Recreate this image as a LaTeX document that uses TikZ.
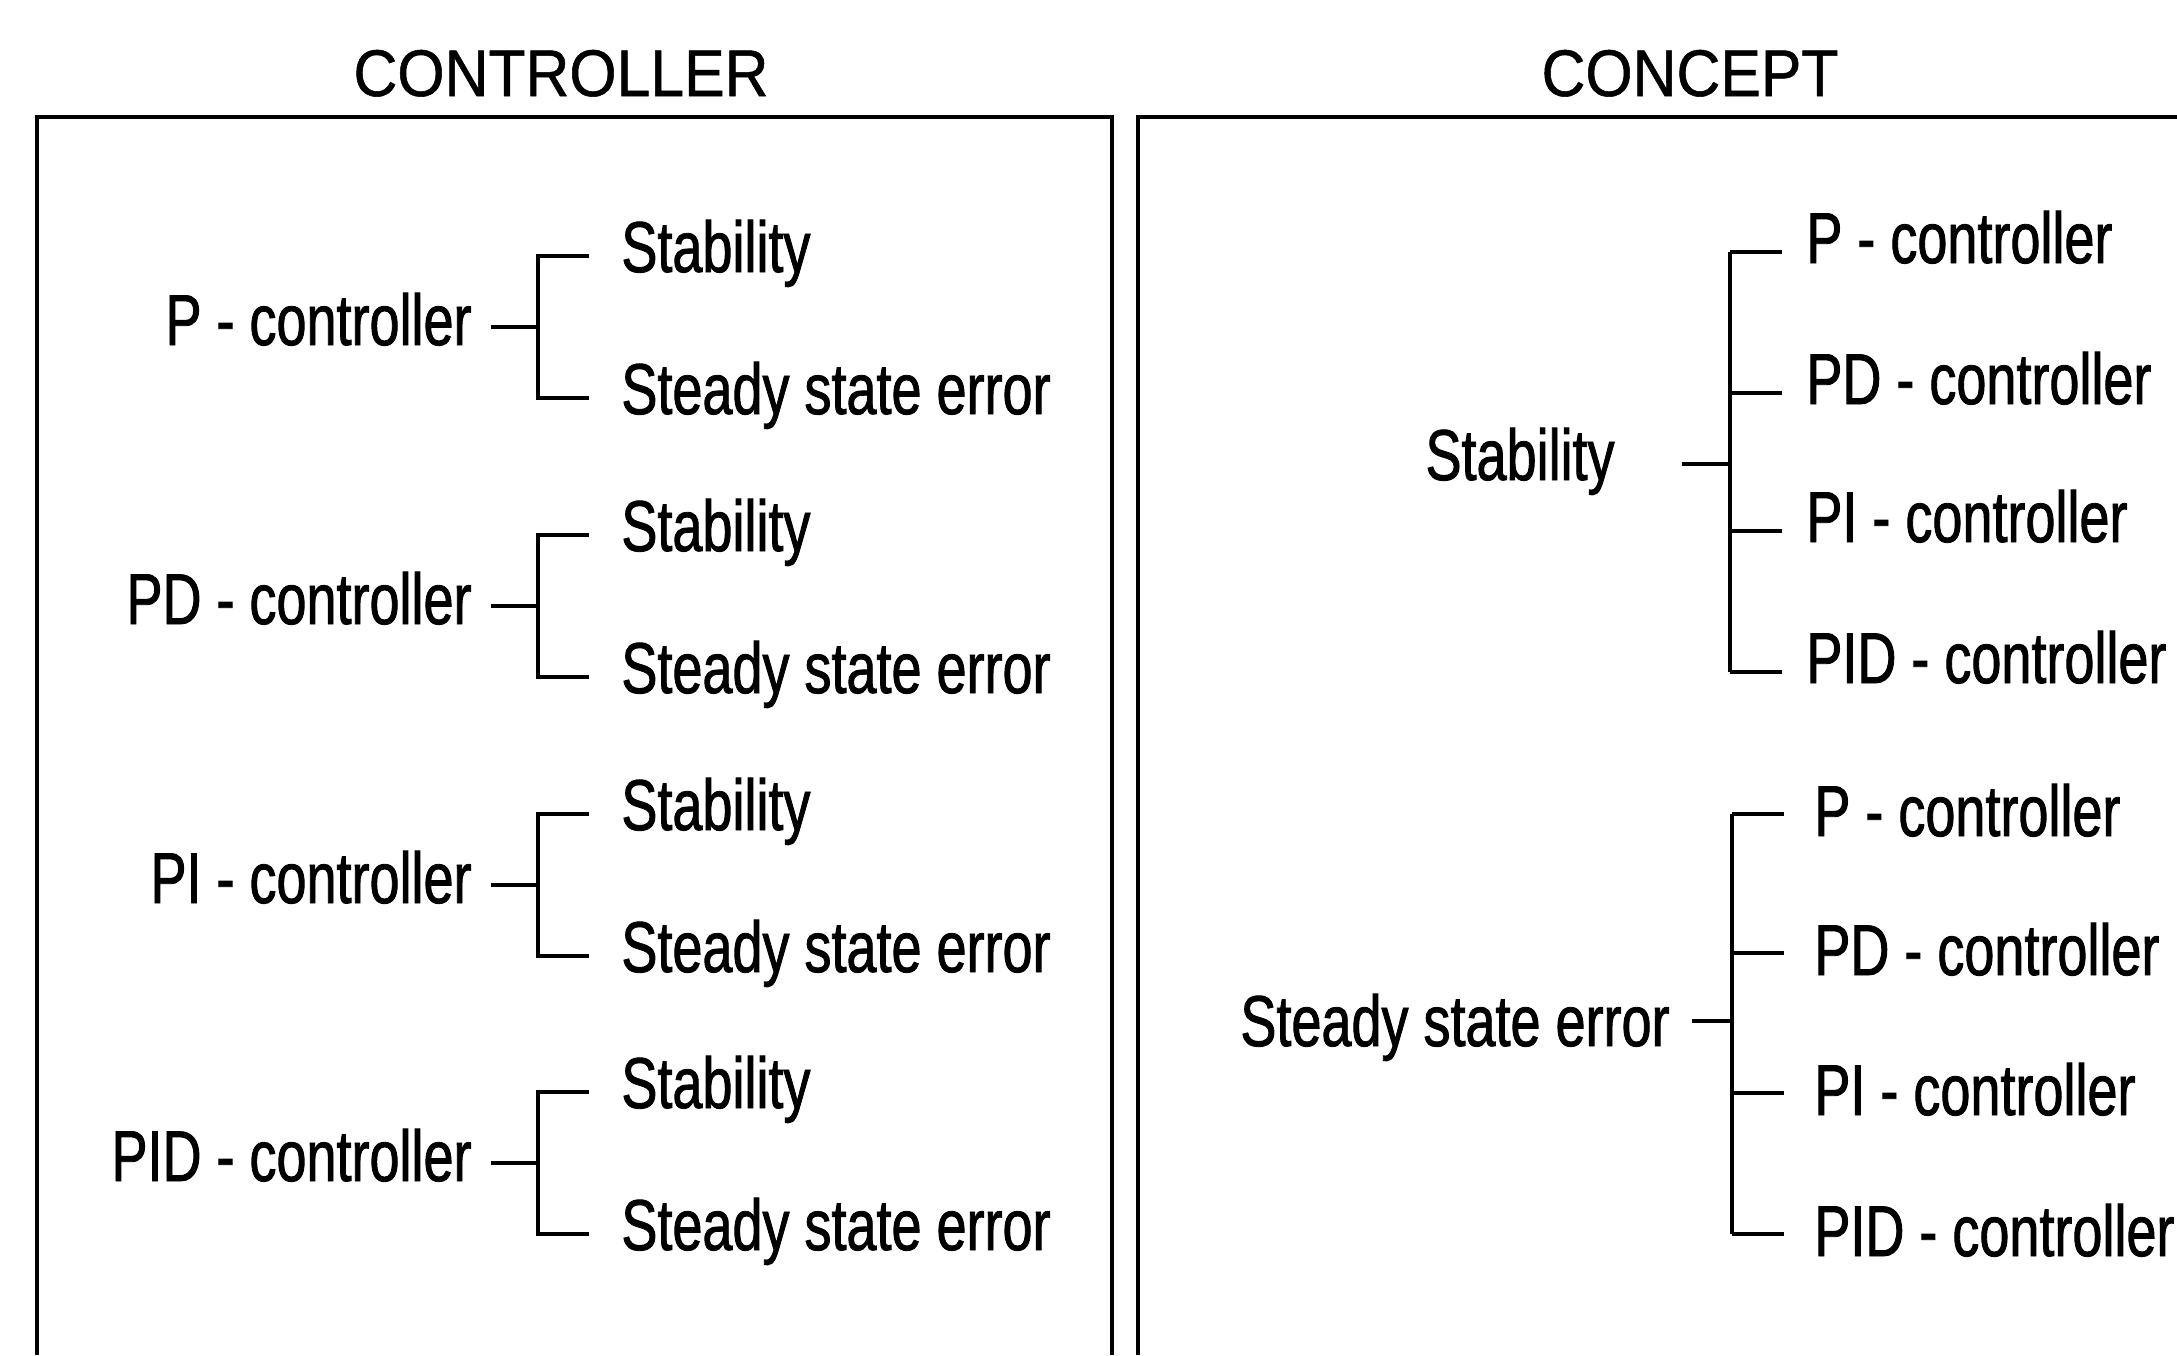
\documentclass[tikz,border=0pt]{standalone}
\usepackage{fontspec}
\setmainfont{Liberation Sans}
\newfontfamily\condfont[FakeStretch=0.75,FakeBold=1.2]{Liberation Sans}
\newfontfamily\titlefont[FakeStretch=0.92,FakeBold=0.8]{Liberation Sans}
\begin{document}
\begin{tikzpicture}[x=0.5pt,y=-0.5pt,
  boxline/.style={line width=2.2pt},
  conn/.style={line width=1.8pt},
  lbl/.style={inner sep=0pt, font=\condfont\fontsize{36}{40}\selectfont},
  ttl/.style={inner sep=0pt, font=\titlefont\fontsize{33}{36}\selectfont}]
\useasboundingbox (0,0) rectangle (2177,1355);
% panels
\draw[boxline] (37,1355) -- (37,117) -- (1112,117) -- (1112,1355);
\draw[boxline] (1138,1355) -- (1138,117) -- (2177,117);
\node[ttl, anchor=base] (t1) at (561,96) {CONTROLLER};
\node[ttl, anchor=base] (t2) at (1690,96) {CONCEPT};
% left panel
\foreach \n/\t/\y in {p/P/327, pd/PD/606, pi/PI/885, pid/PID/1163} {
  \node[lbl, anchor=base east] (c\n) at (472,\y+18) {\t\ - controller};
  \node[lbl, anchor=base west] (c\n s) at (621,\y-71+16) {Stability};
  \node[lbl, anchor=base west] (c\n e) at (621,\y+71+16) {Steady state error};
  \coordinate (c\n a) at (491,\y);
  \coordinate (c\n j) at (538,\y);
  \coordinate (c\n t) at (589,\y-71);
  \coordinate (c\n b) at (589,\y+71);
  \draw[conn] (c\n a) -- (c\n j);
  \draw[conn] (c\n t) -| (c\n j) |- (c\n b);
}
% right panel, group 1
\node[lbl, anchor=base east] (rs) at (1615,480) {Stability};
\coordinate (rsa) at (1682,464);
\coordinate (rsj) at (1730,464);
\draw[conn] (rsa) -- (rsj);
\foreach \n/\t/\y in {1/P/252, 2/PD/393, 3/PI/531, 4/PID/672} {
  \node[lbl, anchor=base west] (rs\n) at (1806,\y+11) {\t\ - controller};
  \coordinate (rs\n e) at (1782,\y);
  \draw[conn] (rs\n e) -- (rs\n e -| rsj);
}
\draw[conn] (rs1e -| rsj) -- (rs4e -| rsj);
% right panel, group 2
\node[lbl, anchor=base east] (re) at (1670,1046) {Steady state error};
\coordinate (rea) at (1692,1021);
\coordinate (rej) at (1732,1021);
\draw[conn] (rea) -- (rej);
\foreach \n/\t/\y in {1/P/814, 2/PD/953, 3/PI/1093, 4/PID/1234} {
  \node[lbl, anchor=base west] (re\n) at (1814,\y+22) {\t\ - controller};
  \coordinate (re\n e) at (1784,\y);
  \draw[conn] (re\n e) -- (re\n e -| rej);
}
\draw[conn] (re1e -| rej) -- (re4e -| rej);
\end{tikzpicture}
\end{document}
